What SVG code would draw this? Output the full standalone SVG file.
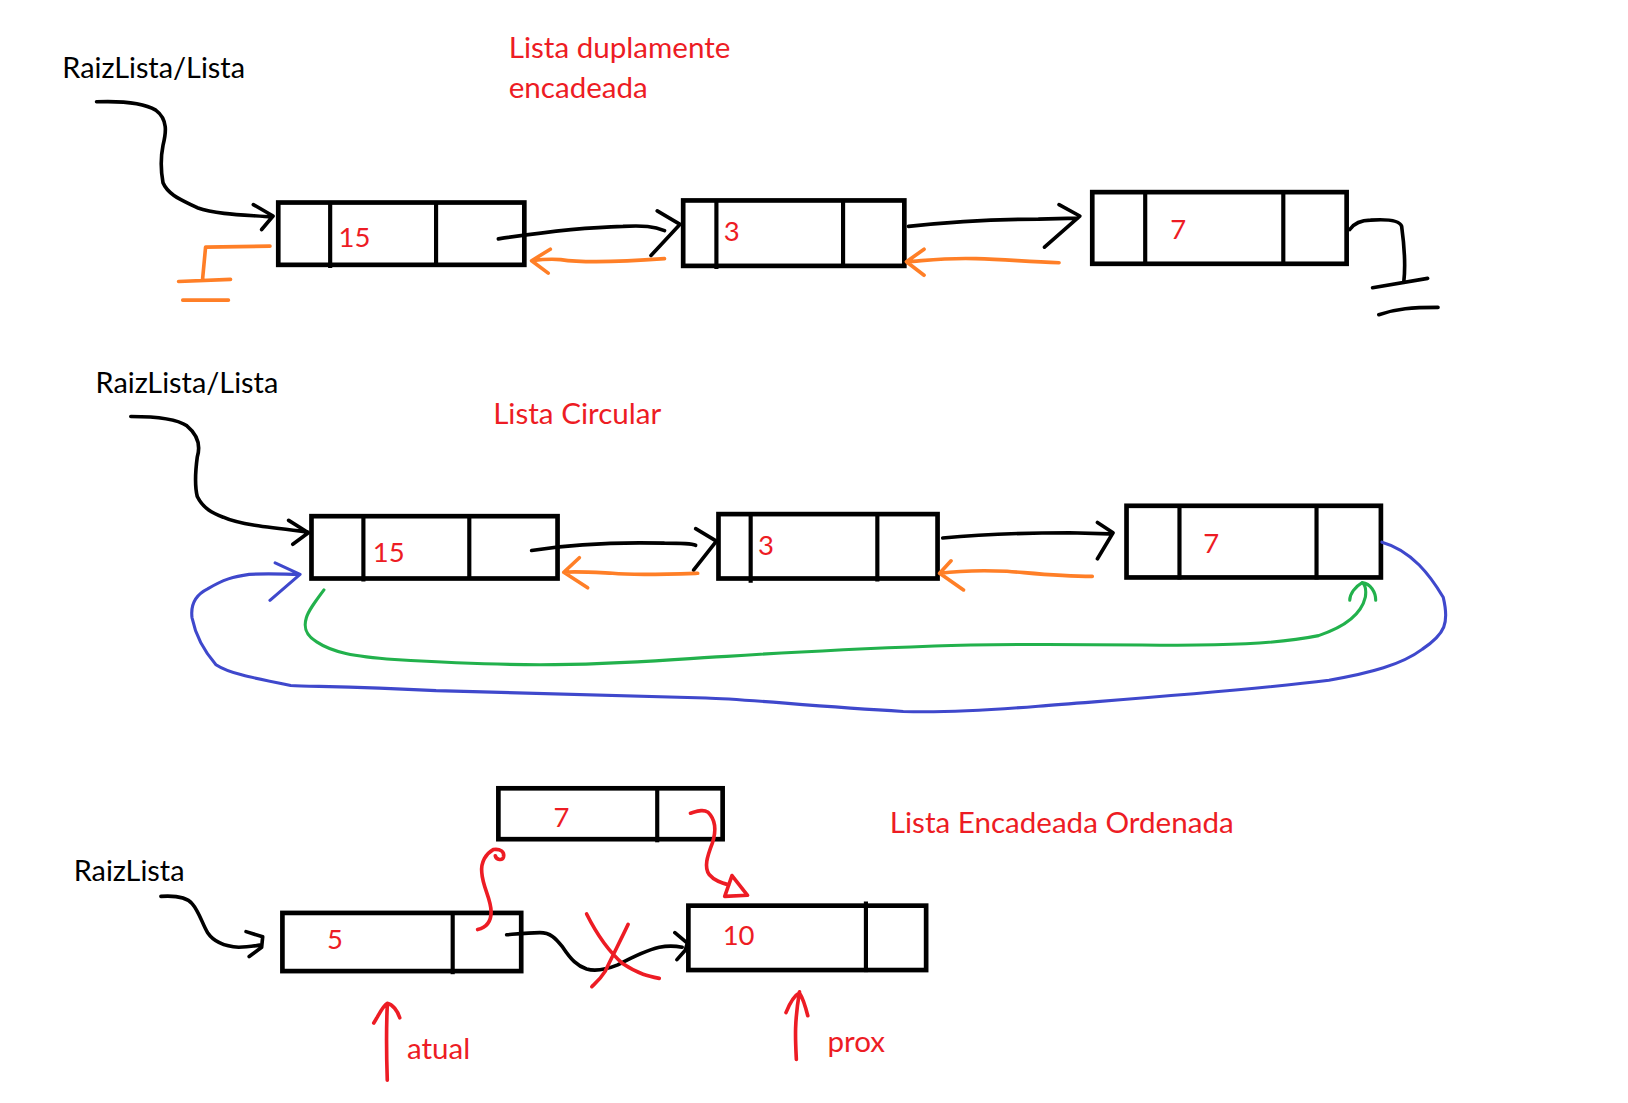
<svg xmlns="http://www.w3.org/2000/svg" width="1628" height="1103" viewBox="0 0 1628 1103">
<style>
.box{fill:none;stroke:#000;stroke-width:4.5}
.div{stroke:#000;stroke-width:4;fill:none}
.k{fill:none;stroke:#000;stroke-width:3.5;stroke-linecap:round;stroke-linejoin:round}
.o{fill:none;stroke:#FF7F27;stroke-width:3.5;stroke-linecap:round;stroke-linejoin:round}
.b{fill:none;stroke:#3F48CC;stroke-width:3;stroke-linecap:round;stroke-linejoin:round}
.g{fill:none;stroke:#22B14C;stroke-width:3;stroke-linecap:round;stroke-linejoin:round}
.r{fill:none;stroke:#ED1C24;stroke-width:3.5;stroke-linecap:round;stroke-linejoin:round}
.tk{font-family:Lato,"Open Sans","Liberation Sans",sans-serif;font-size:27.8px;fill:#000}
.tr{font-family:Lato,"Open Sans","Liberation Sans",sans-serif;font-size:28.5px;fill:#ED1C24}
.tv{font-family:Lato,"Open Sans","Liberation Sans",sans-serif;font-size:26.5px;fill:#ED1C24}
</style>
<rect width="1628" height="1103" fill="#fff"/>
<g transform="scale(1.03827 1.0386)">
<g id="labels">
<text class="tk" x="60" y="75">RaizLista/Lista</text>
<text class="tr" x="490" y="56">Lista duplamente</text>
<text class="tr" x="490" y="94">encadeada</text>
<text class="tk" x="92" y="378">RaizLista/Lista</text>
<text class="tr" x="475" y="408">Lista Circular</text>
<text class="tk" x="71" y="848">RaizLista</text>
<text class="tr" x="857" y="802">Lista Encadeada Ordenada</text>
<text class="tr" x="392" y="1020">atual</text>
<text class="tr" x="797" y="1013">prox</text>
</g>
<g id="n1a"><rect class="box" x="268" y="195" width="237" height="60"/><path class="div" d="M318 195V258M420 195V255"/><text class="tv" x="326" y="238">15</text></g>
<g id="n1b"><rect class="box" x="658" y="193" width="213" height="63"/><path class="div" d="M690 193V259M812 193V258"/><text class="tv" x="697" y="232">3</text></g>
<g id="n1c"><rect class="box" x="1052" y="185" width="245" height="69"/><path class="div" d="M1103 185V256M1236 185V256"/><text class="tv" x="1127" y="230">7</text></g>
<g id="n2a"><rect class="box" x="300" y="497" width="237" height="60"/><path class="div" d="M350 497V560M452 497V557"/><text class="tv" x="359" y="541">15</text></g>
<g id="n2b"><rect class="box" x="692" y="495" width="211" height="62"/><path class="div" d="M723 495V561M845 495V560"/><text class="tv" x="730" y="534">3</text></g>
<g id="n2c"><rect class="box" x="1085" y="487" width="245" height="69"/><path class="div" d="M1136 487V558M1268 487V558"/><text class="tv" x="1159" y="532">7</text></g>
<g id="n3a"><rect class="box" x="272" y="879" width="230" height="56"/><path class="div" d="M436 879V938"/><text class="tv" x="315" y="914">5</text></g>
<g id="n3b"><rect class="box" x="480" y="759" width="216" height="49"/><path class="div" d="M633 759V811"/><text class="tv" x="533" y="796">7</text></g>
<g id="n3c"><rect class="box" x="663" y="872" width="229" height="62"/><path class="div" d="M834 868V936"/><text class="tv" x="696" y="910">10</text></g>
<g id="connectors">
<path class="k" d="M93 98C120 97 140 100 150 106C162 115 160 128 157 140C154 155 155 165 157 176C162 188 176 193 190 200C210 207 240 207 262 209M244 197L263 208L252 221"/>
<path class="o" d="M260 237L198 238L195 270M172 271L222 269M176 289L220 289"/>
<path class="k" d="M480 230C520 224 560 219 600 218C620 217 630 218 640 222M633 203L655 216L627 246"/>
<path class="o" d="M640 249C600 252 560 253 540 250C530 249 520 250 512 251M530 240L512 251L528 263"/>
<path class="k" d="M875 218C920 213 960 211 1000 211L1038 210M1020 197L1040 208L1006 238"/>
<path class="o" d="M1020 253C990 252 970 250 940 249C910 248 890 251 873 252M890 240L873 252L890 265"/>
<path class="k" d="M1300 221C1305 214 1312 212 1320 212C1335 211 1348 212 1350 218C1353 240 1354 255 1352 272M1322 277L1375 268M1328 303C1345 297 1360 296 1385 296"/>
<path class="k" d="M126 401C150 401 170 403 180 410C192 420 193 430 190 440C188 455 188 470 190 478C196 490 205 494 215 498C230 505 260 508 296 512M278 501L297 513L282 524"/>
<path class="k" d="M512 530C550 524 600 522 640 523C655 523 665 523 670 525M670 509L690 521L668 549"/>
<path class="o" d="M672 552C640 553 610 554 590 552C570 551 555 550 543 551M558 537L543 551L566 566"/>
<path class="k" d="M908 518C950 514 990 513 1030 513L1068 514M1057 503L1072 513L1057 538"/>
<path class="o" d="M1052 555C1020 555 995 552 970 550C945 549 920 550 905 552M916 540L905 552L928 568"/>
<path class="b" d="M1331 522C1360 530 1378 555 1390 575C1396 600 1392 610 1370 625C1350 640 1320 648 1280 655C1200 665 1100 672 1000 680C950 684 900 686 870 685C780 680 720 673 680 672C600 670 520 668 420 665C340 661 300 661 280 660C240 652 220 648 208 640C195 625 188 610 185 595C183 580 190 572 200 567C215 558 225 555 240 553C260 552 275 553 288 553M265 542L289 553L260 578"/>
<path class="g" d="M312 568C303 580 297 588 295 595C292 605 295 612 305 618C320 628 340 632 380 635C430 638 480 640 520 640C600 640 640 635 700 632C760 628 820 625 900 622C950 620 1000 620 1100 621C1180 622 1230 620 1270 612C1300 602 1312 588 1315 575C1316 568 1315 563 1312 561C1305 565 1300 572 1300 578M1312 561C1320 562 1325 570 1325 578"/>
<path class="k" d="M155 863C170 862 180 864 185 870C192 878 195 890 200 898C206 907 215 911 230 912C238 912 244 911 250 910M237 897L253 902L252 912L240 921"/>
<path class="k" d="M488 900C500 899 510 898 520 898C530 898 535 903 542 912C550 924 556 930 565 933C575 936 585 933 595 929C610 921 622 915 635 912C645 910 652 911 657 912M650 898L662 908L660 915L652 924"/>
<path class="r" d="M565 880C575 900 585 915 600 928C615 938 625 940 635 942M605 890C598 905 590 920 583 935C578 943 573 947 570 950"/>
<path class="r" d="M460 895C468 893 473 888 473 878C473 865 465 855 464 840C463 830 468 822 475 818C482 817 486 820 485 825C484 829 478 828 477 824"/>
<path class="r" d="M665 783C672 781 677 779 682 782C690 790 690 800 686 812C681 825 678 835 683 842C688 848 695 850 702 852M705 843L720 862L698 863Z"/>
<path class="r" d="M373 1040C372 1010 372 990 373 968M360 985C366 975 369 968 373 966C378 967 383 973 385 980"/>
<path class="r" d="M767 1020C766 1000 765 985 770 955M757 975C761 965 766 958 770 956C774 962 776 970 778 978"/>
</g>
</g>
</svg>
